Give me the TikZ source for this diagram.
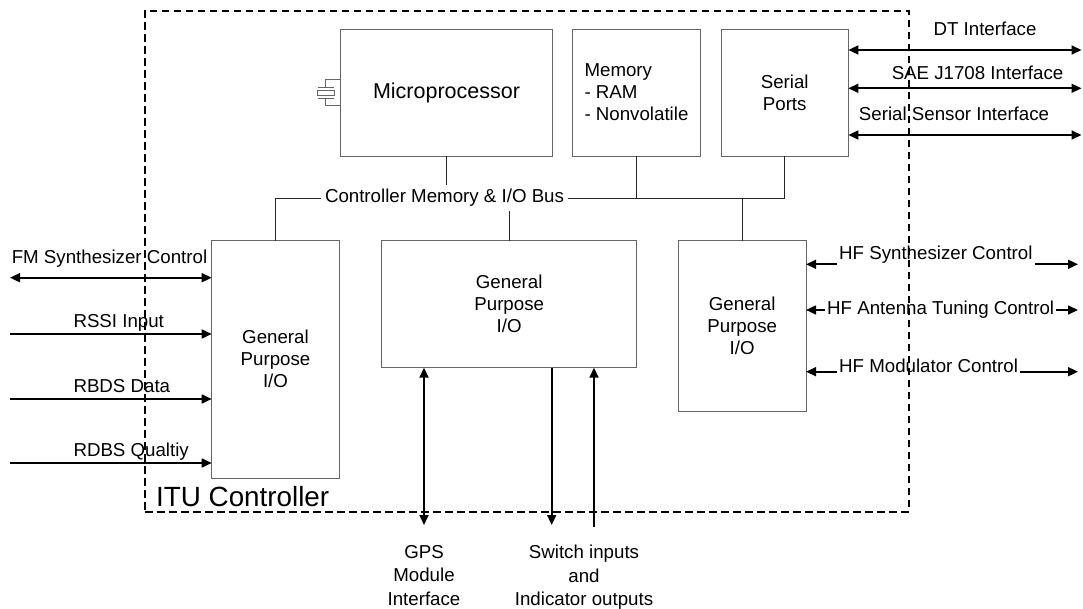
\documentclass[tikz,border=0pt]{standalone}
\usepackage{fontspec}
\setmainfont{Liberation Sans}
\usetikzlibrary{arrows.meta,calc}

\newcommand\bodyfont{\fontsize{18.7}{22}\selectfont}

\tikzset{
  blk/.style={draw=black!60, line width=0.9pt, align=center, font=\bodyfont,
              inner sep=0pt, outer sep=0pt},
  wire/.style={draw=black!85, line width=0.9pt},
  tip/.tip={Triangle[length=10pt,width=9pt]},
  sig/.style={line width=1.7pt, -tip},
  bisig/.style={line width=1.7pt, tip-tip},
  lbl/.style={font=\bodyfont, inner sep=0pt},
  cut/.style={font=\bodyfont, fill=white, inner xsep=2pt, inner ysep=2.5pt},
  frame/.style={draw, dash pattern=on 7.5pt off 4.5pt, line width=1.8pt,
                inner sep=0pt, outer sep=0pt},
  xtal/.style={draw=black!60, line width=0.9pt}
}

\begin{document}
\begin{tikzpicture}[x=1pt,y=-1pt]
\useasboundingbox (0,0) rectangle (1083,609);

% functional blocks
\node[blk, minimum width=211.6pt, minimum height=127pt,
      font=\fontsize{21.5}{25}\selectfont] (mp) at (446.5,92.5) {Microprocessor};
\node[blk, minimum width=127.6pt, minimum height=127pt, align=left] (mem)
      at (636.5,92.5) {Memory\\- RAM\\- Nonvolatile};
\node[blk, minimum width=127.3pt, minimum height=127pt] (ser)
      at (784.7,92.5) {Serial\\Ports};
\node[blk, minimum width=127.6pt, minimum height=237.3pt] (gpl)
      at (275.5,359.3) {General\\Purpose\\I/O};
\node[blk, minimum width=255pt, minimum height=127pt] (gpm)
      at (509.2,304.2) {General\\Purpose\\I/O};
\node[blk, minimum width=127.7pt, minimum height=170.3pt] (gpr)
      at (742.2,325.8) {General\\Purpose\\I/O};

% crystal on the microprocessor
\draw[xtal] (mp.west |- 0,79) -- (325.7,79) -- (325.7,87.3);
\draw[xtal] (317.7,87.3) -- (334.3,87.3);
\draw[xtal] (317.7,90) rectangle (334.3,95.7);
\draw[xtal] (317.7,98.3) -- (334.3,98.3);
\draw[xtal] (325.7,98.3) -- (325.7,105.7) -- (mp.west |- 0,105.7);

% controller memory and I/O bus
\node[font=\bodyfont, fill=white, inner xsep=3.5pt, inner ysep=4pt] (bus)
      at (444.5,198) {Controller Memory \& I/O Bus};
\draw[wire] (gpl.north) |- (bus.west);
\draw[wire] (bus.east) -| (ser.south);
\draw[wire] (mem.south) -- (mem.south |- bus);
\draw[wire] (mp.south) -- (mp.south |- bus.north);
\draw[wire] (gpm.north) -- (gpm.north |- bus.south);
\draw[wire] (gpr.north) -- (gpr.north |- bus);

% serial interfaces
\coordinate (dtE)  at (1081.5,50);
\coordinate (saeE) at (1081.5,88.3);
\coordinate (ssE)  at (1081.5,135);
\draw[bisig] (ser.east |- dtE) -- (dtE);
\draw[bisig] (ser.east |- saeE) -- (saeE);
\draw[bisig] (ser.east |- ssE) -- (ssE);
\node[lbl, anchor=base] (dtT)  at (985,36)    {DT Interface};
\node[lbl, anchor=base] (saeT) at (977.5,80)  {SAE J1708 Interface};
\node[lbl, anchor=base] (ssT)  at (954,120.7) {Serial Sensor Interface};

% FM receiver side
\coordinate (fmW)   at (10,277.7);
\coordinate (rssiW) at (10,334);
\coordinate (rbdsW) at (10,399);
\coordinate (rdbsW) at (10,463);
\draw[bisig] (fmW) -- (fmW -| gpl.west);
\draw[sig] (rssiW) -- (rssiW -| gpl.west);
\draw[sig] (rbdsW) -- (rbdsW -| gpl.west);
\draw[sig] (rdbsW) -- (rdbsW -| gpl.west);
\node[lbl, anchor=base] (fmT) at (109.5,263.3) {FM Synthesizer Control};
\node[lbl, anchor=base west] (rssiT) at (73.3,327.7) {RSSI Input};
\node[lbl, anchor=base west] (rbdsT) at (73.3,392.7) {RBDS Data};
\node[lbl, anchor=base west] (rdbsT) at (73.3,456.7) {RDBS Qualtiy};

% HF side
\coordinate (hfsE) at (1078,264.3);
\coordinate (hfaE) at (1078,310);
\coordinate (hfmE) at (1078,371.7);
\draw[bisig] (gpr.east |- hfsE) -- (hfsE);
\draw[bisig] (gpr.east |- hfaE) -- (hfaE);
\draw[bisig] (gpr.east |- hfmE) -- (hfmE);
\node[cut, anchor=base west] (hfsT) at (837,260)   {HF Synthesizer Control};
\node[cut, anchor=base west] (hfaT) at (825,315)   {HF Antenna Tuning Control};
\node[cut, anchor=base west] (hfmT) at (837,372.7) {HF Modulator Control};

% GPS and discrete I/O
\coordinate (gpsS) at (424,525);
\coordinate (swS)  at (551.7,525);
\coordinate (indS) at (594,526.7);
\draw[bisig] (gpsS |- gpm.south) -- (gpsS);
\draw[sig] (swS |- gpm.south) -- (swS);
\draw[sig] (indS) -- (indS |- gpm.south);
\node[lbl, align=center, anchor=north, font=\fontsize{18.7}{23.5}\selectfont]
      (gpsT) at (424,545) {GPS\\Module\\Interface};
\node[lbl, align=center, anchor=north, font=\fontsize{18.7}{23.5}\selectfont]
      (swT) at (584,545) {Switch inputs\\and\\Indicator outputs};

% controller boundary
\node[frame, minimum width=763.7pt, minimum height=501pt] (itc) at (526.85,261.2) {};
\node[anchor=base west, inner sep=0pt, font=\fontsize{27.8}{32}\selectfont] (itu)
      at (156,506.5) {ITU Controller};
\end{tikzpicture}
\end{document}
